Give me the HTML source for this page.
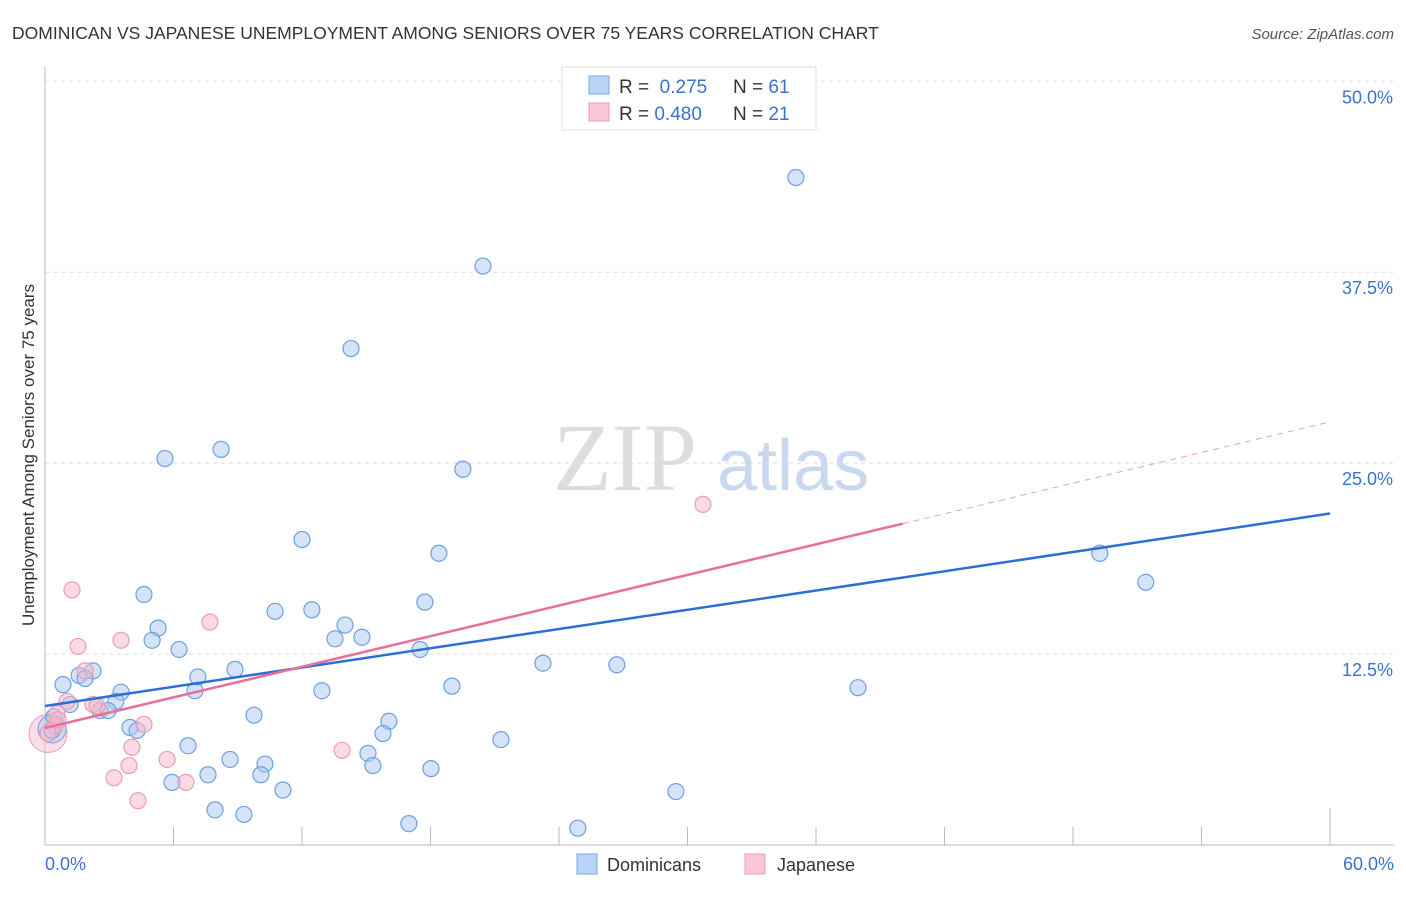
<!DOCTYPE html>
<html><head><meta charset="utf-8"><style>
body{margin:0;background:#fff;width:1406px;height:892px;overflow:hidden;font-family:"Liberation Sans",sans-serif}
</style></head><body>
<svg id="chart" width="1406" height="892" xmlns="http://www.w3.org/2000/svg" font-family="Liberation Sans, sans-serif">
<text x="12" y="39" font-size="17.5" fill="#333">DOMINICAN VS JAPANESE UNEMPLOYMENT AMONG SENIORS OVER 75 YEARS CORRELATION CHART</text>
<text x="1394" y="39" font-size="15" fill="#555" text-anchor="end" font-style="italic">Source: ZipAtlas.com</text>
<text x="553" y="490" font-size="96" fill="#ddd" font-family="Liberation Serif, serif">ZIP</text>
<text x="717" y="490" font-size="72" fill="#c8d8ee">atlas</text>
<text transform="translate(34,455) rotate(-90)" font-size="17" fill="#333" text-anchor="middle">Unemployment Among Seniors over 75 years</text>
<g id="grid"></g><g id="pts"></g><g id="lines"></g>
<g>
<rect x="562" y="67" width="254" height="63" fill="#fff" stroke="#ddd"/>
<rect x="589" y="76" width="20" height="18" fill="#b8d3f4" stroke="#7aa7e6"/>
<rect x="589" y="103" width="20" height="18" fill="#f9c7d6" stroke="#ef9ab3"/>
<text x="619" y="93" font-size="19" fill="#333">R = <tspan fill="#3a72d0">&#160;0.275</tspan></text>
<text x="733" y="93" font-size="19" fill="#333">N = <tspan fill="#3a72d0">61</tspan></text>
<text x="619" y="120" font-size="19" fill="#333">R = <tspan fill="#3a72d0">0.480</tspan></text>
<text x="733" y="120" font-size="19" fill="#333">N = <tspan fill="#3a72d0">21</tspan></text>
</g>
<g>
<rect x="577" y="854" width="20" height="20" fill="#b8d3f4" stroke="#7aa7e6"/>
<text x="607" y="871" font-size="18" fill="#333">Dominicans</text>
<rect x="745" y="854" width="20" height="20" fill="#f9c7d6" stroke="#ef9ab3"/>
<text x="777" y="871" font-size="18" fill="#333">Japanese</text>
</g>
</svg>
<script>
const yTicks=[12.5,25.0,37.5,50.0];
const yTickLabels=["12.5%","25.0%","37.5%","50.0%"];
const xTickVals=[0,6,12,18,24,30,36,42,48,54,60];
const domX=[1.17,0.42,0.33,2.24,1.59,1.87,0.84,3.55,7.00,12.93,19.00,37.96,3.31,2.57,2.94,9.76,16.06,3.97,4.30,15.78,6.68,21.29,15.08,8.64,10.27,15.31,18.02,7.61,10.08,5.93,11.11,29.46,7.94,9.29,16.99,24.88,35.06,20.45,14.29,8.22,5.60,19.51,12.00,18.39,49.25,51.40,4.62,17.74,10.74,12.46,5.28,14.01,5.00,14.80,13.54,6.26,17.51,23.25,26.70,8.87,7.14];
const domY=[9.2,8.4,7.5,11.4,11.1,10.9,10.5,10.0,10.1,10.1,10.4,10.3,9.4,8.8,8.8,8.5,8.1,7.7,7.5,7.3,6.5,6.9,6.0,5.6,5.3,5.2,5.0,4.6,4.6,4.1,3.6,3.5,2.3,2.0,1.4,1.1,43.7,37.9,32.5,25.9,25.3,24.6,20.0,19.1,19.1,17.2,16.4,15.9,15.3,15.4,14.2,14.4,13.4,13.6,13.5,12.8,12.8,11.9,11.8,11.5,11.0];
const japX=[30.72,1.26,7.70,1.54,3.55,1.87,1.03,2.24,2.43,0.56,4.62,0.47,0.14,4.06,13.87,5.70,3.92,3.22,6.58,4.34,0.61];
const japY=[22.3,16.7,14.6,13.0,13.4,11.4,9.4,9.2,9.1,8.6,7.9,7.8,7.3,6.4,6.2,5.6,5.2,4.4,4.1,2.9,8.2];
const domTrend=[9.1,21.7];
const japTrend=[7.66,27.7];
const japSolidEnd=40.05;
const X=v=>45+v*1285/60, Y=v=>845-v*611/40;
const NS="http://www.w3.org/2000/svg";
function mk(p,t,a){const e=document.createElementNS(NS,t);for(const k in a)e.setAttribute(k,a[k]);p.appendChild(e);return e;}
const g=document.getElementById('grid');
yTicks.forEach((v,i)=>{
 const l=mk(g,'line',{x1:45,x2:1394,y1:Y(v),y2:Y(v),stroke:'#ddd','stroke-dasharray':'4,4'});
 
 
 const t=mk(g,'text',{x:1393,y:Y(v)+22,'font-size':18,fill:'#3a72d0','text-anchor':'end'});t.textContent=yTickLabels[i];
 
 
});
const ax=mk(g,'line',{x1:45,x2:45,y1:67,y2:845,stroke:'#bbb'});


const bx=mk(g,'line',{x1:45,x2:1394,y1:845,y2:845,stroke:'#bbb'});


xTickVals.forEach((v,i)=>{
 const t=mk(g,'line',{x1:X(v),x2:X(v),y1:(i==10?808:827),y2:845,stroke:'#bbb'});
 
 
});
[[0,"0.0%",'start',45],[60,"60.0%",'end',1394]].forEach(a=>{
 const t=mk(g,'text',{x:a[3],y:870,'font-size':18,fill:'#3a72d0','text-anchor':a[2]});t.textContent=a[1];
 
 
});
const p=document.getElementById('pts');
const big=mk(p,'circle',{cx:X(0.14),cy:Y(7.3),r:19,fill:'#f5b8cb','fill-opacity':0.45,stroke:'#ef9ab3'});


const big2=mk(p,'circle',{cx:X(0.33),cy:Y(7.6),r:14,fill:'#a9c8f0','fill-opacity':0.45,stroke:'#6f9fe0'});


domX.forEach((x,i)=>{
 const c=mk(p,'circle',{cx:X(x),cy:Y(domY[i]),r:8,fill:'#a9c8f0','fill-opacity':0.5,stroke:'#6f9fe0','stroke-width':1.2});
 
 
});
japX.forEach((x,i)=>{
 const c=mk(p,'circle',{cx:X(x),cy:Y(japY[i]),r:8,fill:'#f5b8cb','fill-opacity':0.5,stroke:'#ef9ab3','stroke-width':1.2});
 
 
});
const L=document.getElementById('lines');
const b=mk(L,'line',{x1:X(0),y1:Y(domTrend[0]),x2:X(60),y2:Y(domTrend[1]),stroke:'#2d6fd6','stroke-width':2.5});


const jy=v=>japTrend[0]+(japTrend[1]-japTrend[0])*v/60;
const j=mk(L,'line',{x1:X(0),y1:Y(jy(0)),x2:X(japSolidEnd),y2:Y(jy(japSolidEnd)),stroke:'#e8709a','stroke-width':2.5});


const jd=mk(L,'line',{x1:X(japSolidEnd),y1:Y(jy(japSolidEnd)),x2:X(60),y2:Y(jy(60)),stroke:'#e8a0b8','stroke-width':1,'stroke-dasharray':'6,5'});


</script>
</body></html>
